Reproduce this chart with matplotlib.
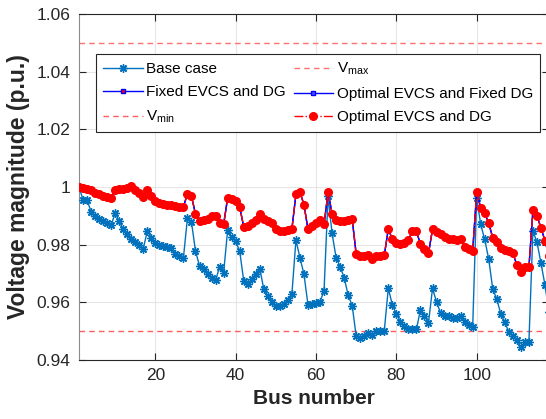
import numpy as np
import matplotlib
matplotlib.use('Agg')
import matplotlib.pyplot as plt
from matplotlib.ticker import FuncFormatter


# bus numbers of the 118 bus system
bus_numbers = list(range(1, 119))

# voltage profile (p.u.)
base_case = [
    1.0000, 0.9956, 0.9956, 0.9914, 0.9900, 0.9890, 0.9882, 0.9876, 0.9867, 0.9910,
    0.9882, 0.9853, 0.9836, 0.9820, 0.9810, 0.9800, 0.9786, 0.9847, 0.9824, 0.9807,
    0.9800, 0.9795, 0.9793, 0.9790, 0.9767, 0.9760, 0.9755, 0.9893, 0.9878, 0.9778,
    0.9726, 0.9715, 0.9698, 0.9685, 0.9676, 0.9723, 0.9702, 0.9850, 0.9826, 0.9811,
    0.9778, 0.9675, 0.9663, 0.9680, 0.9700, 0.9717, 0.9646, 0.9623, 0.9602, 0.9586,
    0.9589, 0.9594, 0.9609, 0.9629, 0.9816, 0.9755, 0.9698, 0.9591, 0.9594, 0.9598,
    0.9602, 0.9640, 0.9968, 0.9839, 0.9755, 0.9724, 0.9686, 0.9625, 0.9589, 0.9483,
    0.9476, 0.9483, 0.9494, 0.9487, 0.9499, 0.9502, 0.9502, 0.9649, 0.9591, 0.9560,
    0.9533, 0.9517, 0.9508, 0.9506, 0.9506, 0.9575, 0.9554, 0.9529, 0.9648, 0.9602,
    0.9563, 0.9554, 0.9552, 0.9545, 0.9545, 0.9552, 0.9531, 0.9522, 0.9514, 0.9962,
    0.9870, 0.9818, 0.9749, 0.9646, 0.9611, 0.9560, 0.9531, 0.9497, 0.9483, 0.9469,
    0.9445, 0.9463, 0.9463, 0.9847, 0.9809, 0.9736, 0.9660, 0.9565,
]

optimal_evcs_dg = [
    1.0000, 0.9998, 0.9993, 0.9989, 0.9980, 0.9974, 0.9968, 0.9966, 0.9962, 0.9991,
    0.9993, 0.9993, 0.9997, 1.0002, 0.9991, 0.9980, 0.9966, 0.9989, 0.9970, 0.9951,
    0.9943, 0.9940, 0.9939, 0.9939, 0.9933, 0.9931, 0.9931, 0.9977, 0.9968, 0.9906,
    0.9882, 0.9885, 0.9889, 0.9900, 0.9898, 0.9875, 0.9870, 0.9962, 0.9958, 0.9953,
    0.9931, 0.9862, 0.9864, 0.9874, 0.9885, 0.9905, 0.9890, 0.9882, 0.9876, 0.9853,
    0.9847, 0.9847, 0.9851, 0.9855, 0.9974, 0.9982, 0.9939, 0.9853, 0.9864, 0.9876,
    0.9885, 0.9870, 0.9982, 0.9908, 0.9887, 0.9882, 0.9882, 0.9885, 0.9890, 0.9767,
    0.9759, 0.9759, 0.9763, 0.9752, 0.9759, 0.9761, 0.9763, 0.9855, 0.9818, 0.9805,
    0.9801, 0.9805, 0.9816, 0.9847, 0.9847, 0.9801, 0.9786, 0.9770, 0.9853, 0.9844,
    0.9836, 0.9828, 0.9821, 0.9818, 0.9816, 0.9818, 0.9793, 0.9784, 0.9778, 0.9982,
    0.9928, 0.9910, 0.9874, 0.9824, 0.9809, 0.9790, 0.9782, 0.9778, 0.9772, 0.9729,
    0.9706, 0.9721, 0.9721, 0.9920, 0.9899, 0.9859, 0.9813, 0.9761,
]

# these two cases lie under the optimal curve in the figure
fixed_evcs_dg = list(optimal_evcs_dg)
optimal_evcs_fixed_dg = list(optimal_evcs_dg)

# voltage limits
v_max = 1.05
v_min = 0.95

x_ticks = [20, 40, 60, 80, 100]
y_ticks = [0.94, 0.96, 0.98, 1.00, 1.02, 1.04, 1.06]


plt.rcParams['font.family'] = ['Liberation Sans', 'DejaVu Sans']
plt.rcParams['mathtext.fontset'] = 'custom'
plt.rcParams['mathtext.rm'] = 'Liberation Sans'
plt.rcParams['mathtext.it'] = 'Liberation Sans'

fig = plt.figure(figsize=(5.46, 4.19), dpi=100)
ax = fig.add_axes([79 / 546, 1 - 360 / 419, 470 / 546, 346 / 419])

# plot every case
ax.plot(bus_numbers, base_case, color='#0072BD', linewidth=1,
        marker=(8, 2, 0), markersize=6, markeredgewidth=1, label='Base case', zorder=3)
ax.plot(bus_numbers, fixed_evcs_dg, color='b', linewidth=1,
        marker='s', markersize=3, markerfacecolor='r', markeredgecolor='b',
        label='Fixed EVCS and DG', zorder=3)
ax.axhline(v_min, color='#ff5c5c', linestyle=(0, (4, 3)), linewidth=1, label=r'V$_{\rm min}$', zorder=2)
ax.axhline(v_max, color='#ff7070', linestyle=(0, (4, 3)), linewidth=1, label=r'V$_{\rm max}$', zorder=2)
ax.plot(bus_numbers, optimal_evcs_fixed_dg, color='b', linewidth=1,
        marker='s', markersize=3, markerfacecolor='#5050ff', markeredgecolor='b',
        label='Optimal EVCS and Fixed DG', zorder=3)
ax.plot(bus_numbers, optimal_evcs_dg, color='r', linestyle='-.', linewidth=1,
        marker='o', markersize=5.5, markerfacecolor='r', markeredgecolor='r',
        label='Optimal EVCS and DG', zorder=4)

ax.set_xlim(1, 118)
ax.set_ylim(0.94, 1.06)
ax.set_xticks(x_ticks)
ax.set_yticks(y_ticks)
ax.yaxis.set_major_formatter(FuncFormatter(lambda v, p: '%g' % round(v, 2)))
ax.tick_params(direction='in', length=5, width=0.8, labelsize=12.5, colors='#262626',
               top=True, right=True, pad=6)
ax.grid(True, color='#e6e6e6', linewidth=0.8)
ax.set_axisbelow(True)
for side in ['top', 'bottom', 'right']:
    ax.spines[side].set_color('#262626')
ax.spines['left'].set_color('#8c8c8c')

ax.set_xlabel('Bus number', fontsize=15, fontweight='bold', color='#262626', labelpad=4)
ax.set_ylabel('Voltage magnitude (p.u.)', fontsize=16.5, fontweight='bold', color='#262626', labelpad=5)

leg = ax.legend(loc='upper left', bbox_to_anchor=(0.036, 0.884), borderaxespad=0,
                ncol=2, fontsize=11, fancybox=False, framealpha=1,
                edgecolor='#262626', handlelength=2.6, columnspacing=0.5,
                labelspacing=0.62, handletextpad=0.25, borderpad=0.45)
leg.get_frame().set_linewidth(0.8)

fig.savefig('out.png', dpi=100)
